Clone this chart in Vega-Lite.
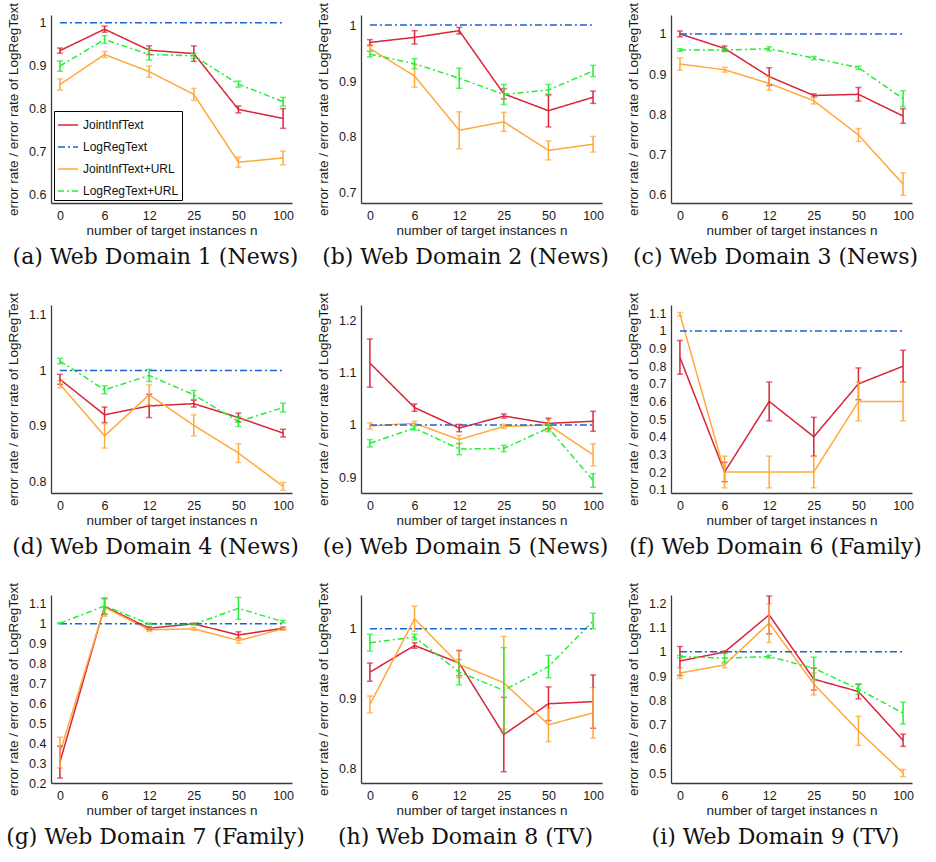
{
"$schema":"https://vega.github.io/schema/vega-lite/v6.json",
"background":"white",
"padding":{"left":6,"top":2,"right":5,"bottom":5},
"datasets":{"d":[
{"p":"a","s":"JI","n":0,"v":0.935,"lo":0.929,"hi":0.941},{"p":"a","s":"JI","n":6,"v":0.985,"lo":0.978,"hi":0.992},{"p":"a","s":"JI","n":12,"v":0.936,"lo":0.926,"hi":0.946},{"p":"a","s":"JI","n":25,"v":0.928,"lo":0.910,"hi":0.946},{"p":"a","s":"JI","n":50,"v":0.798,"lo":0.790,"hi":0.806},{"p":"a","s":"JI","n":100,"v":0.777,"lo":0.754,"hi":0.800},
{"p":"a","s":"JU","n":0,"v":0.856,"lo":0.843,"hi":0.869},{"p":"a","s":"JU","n":6,"v":0.926,"lo":0.919,"hi":0.933},{"p":"a","s":"JU","n":12,"v":0.886,"lo":0.873,"hi":0.899},{"p":"a","s":"JU","n":25,"v":0.833,"lo":0.819,"hi":0.847},{"p":"a","s":"JU","n":50,"v":0.675,"lo":0.663,"hi":0.687},{"p":"a","s":"JU","n":100,"v":0.685,"lo":0.669,"hi":0.701},
{"p":"a","s":"LU","n":0,"v":0.899,"lo":0.887,"hi":0.911},{"p":"a","s":"LU","n":6,"v":0.961,"lo":0.952,"hi":0.970},{"p":"a","s":"LU","n":12,"v":0.926,"lo":0.913,"hi":0.939},{"p":"a","s":"LU","n":25,"v":0.923,"lo":0.917,"hi":0.929},{"p":"a","s":"LU","n":50,"v":0.857,"lo":0.850,"hi":0.864},{"p":"a","s":"LU","n":100,"v":0.816,"lo":0.806,"hi":0.826},
{"p":"b","s":"JI","n":0,"v":0.969,"lo":0.964,"hi":0.974},{"p":"b","s":"JI","n":6,"v":0.978,"lo":0.966,"hi":0.990},{"p":"b","s":"JI","n":12,"v":0.990,"lo":0.984,"hi":0.996},{"p":"b","s":"JI","n":25,"v":0.877,"lo":0.868,"hi":0.886},{"p":"b","s":"JI","n":50,"v":0.847,"lo":0.818,"hi":0.876},{"p":"b","s":"JI","n":100,"v":0.871,"lo":0.860,"hi":0.882},
{"p":"b","s":"JU","n":0,"v":0.958,"lo":0.954,"hi":0.962},{"p":"b","s":"JU","n":6,"v":0.909,"lo":0.889,"hi":0.929},{"p":"b","s":"JU","n":12,"v":0.812,"lo":0.779,"hi":0.845},{"p":"b","s":"JU","n":25,"v":0.827,"lo":0.810,"hi":0.844},{"p":"b","s":"JU","n":50,"v":0.776,"lo":0.759,"hi":0.793},{"p":"b","s":"JU","n":100,"v":0.787,"lo":0.773,"hi":0.801},
{"p":"b","s":"LU","n":0,"v":0.948,"lo":0.943,"hi":0.953},{"p":"b","s":"LU","n":6,"v":0.931,"lo":0.922,"hi":0.940},{"p":"b","s":"LU","n":12,"v":0.905,"lo":0.887,"hi":0.923},{"p":"b","s":"LU","n":25,"v":0.876,"lo":0.858,"hi":0.894},{"p":"b","s":"LU","n":50,"v":0.884,"lo":0.874,"hi":0.894},{"p":"b","s":"LU","n":100,"v":0.918,"lo":0.908,"hi":0.928},
{"p":"c","s":"JI","n":0,"v":1.000,"lo":0.993,"hi":1.007},{"p":"c","s":"JI","n":6,"v":0.964,"lo":0.958,"hi":0.970},{"p":"c","s":"JI","n":12,"v":0.894,"lo":0.872,"hi":0.916},{"p":"c","s":"JI","n":25,"v":0.847,"lo":0.843,"hi":0.851},{"p":"c","s":"JI","n":50,"v":0.850,"lo":0.833,"hi":0.867},{"p":"c","s":"JI","n":100,"v":0.796,"lo":0.778,"hi":0.814},
{"p":"c","s":"JU","n":0,"v":0.925,"lo":0.910,"hi":0.940},{"p":"c","s":"JU","n":6,"v":0.911,"lo":0.905,"hi":0.917},{"p":"c","s":"JU","n":12,"v":0.877,"lo":0.860,"hi":0.894},{"p":"c","s":"JU","n":25,"v":0.834,"lo":0.826,"hi":0.842},{"p":"c","s":"JU","n":50,"v":0.749,"lo":0.733,"hi":0.765},{"p":"c","s":"JU","n":100,"v":0.627,"lo":0.599,"hi":0.655},
{"p":"c","s":"LU","n":0,"v":0.960,"lo":0.957,"hi":0.963},{"p":"c","s":"LU","n":6,"v":0.960,"lo":0.956,"hi":0.964},{"p":"c","s":"LU","n":12,"v":0.963,"lo":0.958,"hi":0.968},{"p":"c","s":"LU","n":25,"v":0.940,"lo":0.936,"hi":0.944},{"p":"c","s":"LU","n":50,"v":0.916,"lo":0.912,"hi":0.920},{"p":"c","s":"LU","n":100,"v":0.839,"lo":0.819,"hi":0.859},
{"p":"d","s":"JI","n":0,"v":0.984,"lo":0.975,"hi":0.993},{"p":"d","s":"JI","n":6,"v":0.920,"lo":0.906,"hi":0.934},{"p":"d","s":"JI","n":12,"v":0.936,"lo":0.915,"hi":0.957},{"p":"d","s":"JI","n":25,"v":0.940,"lo":0.934,"hi":0.946},{"p":"d","s":"JI","n":50,"v":0.915,"lo":0.907,"hi":0.923},{"p":"d","s":"JI","n":100,"v":0.887,"lo":0.880,"hi":0.894},
{"p":"d","s":"JU","n":0,"v":0.975,"lo":0.969,"hi":0.981},{"p":"d","s":"JU","n":6,"v":0.882,"lo":0.860,"hi":0.904},{"p":"d","s":"JU","n":12,"v":0.956,"lo":0.938,"hi":0.974},{"p":"d","s":"JU","n":25,"v":0.901,"lo":0.882,"hi":0.920},{"p":"d","s":"JU","n":50,"v":0.851,"lo":0.834,"hi":0.868},{"p":"d","s":"JU","n":100,"v":0.791,"lo":0.784,"hi":0.798},
{"p":"d","s":"LU","n":0,"v":1.017,"lo":1.012,"hi":1.022},{"p":"d","s":"LU","n":6,"v":0.965,"lo":0.958,"hi":0.972},{"p":"d","s":"LU","n":12,"v":0.991,"lo":0.980,"hi":1.002},{"p":"d","s":"LU","n":25,"v":0.956,"lo":0.948,"hi":0.964},{"p":"d","s":"LU","n":50,"v":0.908,"lo":0.899,"hi":0.917},{"p":"d","s":"LU","n":100,"v":0.933,"lo":0.925,"hi":0.941},
{"p":"e","s":"JI","n":0,"v":1.118,"lo":1.072,"hi":1.164},{"p":"e","s":"JI","n":6,"v":1.033,"lo":1.026,"hi":1.040},{"p":"e","s":"JI","n":12,"v":0.994,"lo":0.987,"hi":1.001},{"p":"e","s":"JI","n":25,"v":1.017,"lo":1.013,"hi":1.021},{"p":"e","s":"JI","n":50,"v":1.003,"lo":0.993,"hi":1.013},{"p":"e","s":"JI","n":100,"v":1.007,"lo":0.988,"hi":1.026},
{"p":"e","s":"JU","n":0,"v":0.998,"lo":0.992,"hi":1.004},{"p":"e","s":"JU","n":6,"v":1.003,"lo":0.999,"hi":1.007},{"p":"e","s":"JU","n":12,"v":0.972,"lo":0.964,"hi":0.980},{"p":"e","s":"JU","n":25,"v":0.997,"lo":0.993,"hi":1.001},{"p":"e","s":"JU","n":50,"v":1.000,"lo":0.990,"hi":1.010},{"p":"e","s":"JU","n":100,"v":0.943,"lo":0.922,"hi":0.964},
{"p":"e","s":"LU","n":0,"v":0.965,"lo":0.958,"hi":0.972},{"p":"e","s":"LU","n":6,"v":0.994,"lo":0.990,"hi":0.998},{"p":"e","s":"LU","n":12,"v":0.954,"lo":0.943,"hi":0.965},{"p":"e","s":"LU","n":25,"v":0.955,"lo":0.949,"hi":0.961},{"p":"e","s":"LU","n":50,"v":0.994,"lo":0.987,"hi":1.001},{"p":"e","s":"LU","n":100,"v":0.894,"lo":0.881,"hi":0.907},
{"p":"f","s":"JI","n":0,"v":0.850,"lo":0.755,"hi":0.945},{"p":"f","s":"JI","n":6,"v":0.200,"lo":0.145,"hi":0.255},{"p":"f","s":"JI","n":12,"v":0.600,"lo":0.490,"hi":0.710},{"p":"f","s":"JI","n":25,"v":0.400,"lo":0.290,"hi":0.510},{"p":"f","s":"JI","n":50,"v":0.700,"lo":0.610,"hi":0.790},{"p":"f","s":"JI","n":100,"v":0.800,"lo":0.710,"hi":0.890},
{"p":"f","s":"JU","n":0,"v":1.095,"lo":1.085,"hi":1.105},{"p":"f","s":"JU","n":6,"v":0.200,"lo":0.110,"hi":0.290},{"p":"f","s":"JU","n":12,"v":0.200,"lo":0.110,"hi":0.290},{"p":"f","s":"JU","n":25,"v":0.200,"lo":0.110,"hi":0.290},{"p":"f","s":"JU","n":50,"v":0.600,"lo":0.490,"hi":0.710},{"p":"f","s":"JU","n":100,"v":0.600,"lo":0.490,"hi":0.710},
{"p":"g","s":"JI","n":0,"v":0.305,"lo":0.225,"hi":0.385},{"p":"g","s":"JI","n":6,"v":1.087,"lo":1.047,"hi":1.127},{"p":"g","s":"JI","n":12,"v":0.978,"lo":0.971,"hi":0.985},{"p":"g","s":"JI","n":25,"v":1.000,"lo":0.997,"hi":1.003},{"p":"g","s":"JI","n":50,"v":0.944,"lo":0.928,"hi":0.960},{"p":"g","s":"JI","n":100,"v":0.978,"lo":0.972,"hi":0.984},
{"p":"g","s":"JU","n":0,"v":0.353,"lo":0.276,"hi":0.430},{"p":"g","s":"JU","n":6,"v":1.083,"lo":1.038,"hi":1.128},{"p":"g","s":"JU","n":12,"v":0.970,"lo":0.962,"hi":0.978},{"p":"g","s":"JU","n":25,"v":0.975,"lo":0.968,"hi":0.982},{"p":"g","s":"JU","n":50,"v":0.916,"lo":0.903,"hi":0.929},{"p":"g","s":"JU","n":100,"v":0.975,"lo":0.968,"hi":0.982},
{"p":"g","s":"LU","n":0,"v":1.003,"lo":1.000,"hi":1.006},{"p":"g","s":"LU","n":6,"v":1.090,"lo":1.050,"hi":1.130},{"p":"g","s":"LU","n":12,"v":1.000,"lo":0.997,"hi":1.003},{"p":"g","s":"LU","n":25,"v":0.998,"lo":0.995,"hi":1.001},{"p":"g","s":"LU","n":50,"v":1.078,"lo":1.023,"hi":1.133},{"p":"g","s":"LU","n":100,"v":1.011,"lo":1.005,"hi":1.017},
{"p":"h","s":"JI","n":0,"v":0.938,"lo":0.925,"hi":0.951},{"p":"h","s":"JI","n":6,"v":0.976,"lo":0.972,"hi":0.980},{"p":"h","s":"JI","n":12,"v":0.951,"lo":0.933,"hi":0.969},{"p":"h","s":"JI","n":25,"v":0.849,"lo":0.796,"hi":0.902},{"p":"h","s":"JI","n":50,"v":0.893,"lo":0.869,"hi":0.917},{"p":"h","s":"JI","n":100,"v":0.896,"lo":0.858,"hi":0.934},
{"p":"h","s":"JU","n":0,"v":0.892,"lo":0.880,"hi":0.904},{"p":"h","s":"JU","n":6,"v":1.014,"lo":0.996,"hi":1.032},{"p":"h","s":"JU","n":12,"v":0.949,"lo":0.930,"hi":0.968},{"p":"h","s":"JU","n":25,"v":0.923,"lo":0.857,"hi":0.989},{"p":"h","s":"JU","n":50,"v":0.863,"lo":0.839,"hi":0.887},{"p":"h","s":"JU","n":100,"v":0.880,"lo":0.844,"hi":0.916},
{"p":"h","s":"LU","n":0,"v":0.980,"lo":0.968,"hi":0.992},{"p":"h","s":"LU","n":6,"v":0.988,"lo":0.984,"hi":0.992},{"p":"h","s":"LU","n":12,"v":0.938,"lo":0.920,"hi":0.956},{"p":"h","s":"LU","n":25,"v":0.912,"lo":0.851,"hi":0.973},{"p":"h","s":"LU","n":50,"v":0.946,"lo":0.930,"hi":0.962},{"p":"h","s":"LU","n":100,"v":1.011,"lo":1.000,"hi":1.022},
{"p":"i","s":"JI","n":0,"v":0.962,"lo":0.902,"hi":1.022},{"p":"i","s":"JI","n":6,"v":0.999,"lo":0.995,"hi":1.003},{"p":"i","s":"JI","n":12,"v":1.152,"lo":1.074,"hi":1.230},{"p":"i","s":"JI","n":25,"v":0.887,"lo":0.842,"hi":0.932},{"p":"i","s":"JI","n":50,"v":0.836,"lo":0.806,"hi":0.866},{"p":"i","s":"JI","n":100,"v":0.635,"lo":0.610,"hi":0.660},
{"p":"i","s":"JU","n":0,"v":0.912,"lo":0.890,"hi":0.934},{"p":"i","s":"JU","n":6,"v":0.946,"lo":0.934,"hi":0.958},{"p":"i","s":"JU","n":12,"v":1.118,"lo":1.038,"hi":1.198},{"p":"i","s":"JU","n":25,"v":0.867,"lo":0.822,"hi":0.912},{"p":"i","s":"JU","n":50,"v":0.674,"lo":0.614,"hi":0.734},{"p":"i","s":"JU","n":100,"v":0.500,"lo":0.485,"hi":0.515},
{"p":"i","s":"LU","n":0,"v":0.980,"lo":0.975,"hi":0.985},{"p":"i","s":"LU","n":6,"v":0.974,"lo":0.954,"hi":0.994},{"p":"i","s":"LU","n":12,"v":0.980,"lo":0.974,"hi":0.986},{"p":"i","s":"LU","n":25,"v":0.932,"lo":0.886,"hi":0.978},{"p":"i","s":"LU","n":50,"v":0.846,"lo":0.826,"hi":0.866},{"p":"i","s":"LU","n":100,"v":0.747,"lo":0.702,"hi":0.792},
{"p":"a","s":"LR","n":0,"v":1,"lo":1,"hi":1},{"p":"a","s":"LR","n":6,"v":1,"lo":1,"hi":1},{"p":"a","s":"LR","n":12,"v":1,"lo":1,"hi":1},{"p":"a","s":"LR","n":25,"v":1,"lo":1,"hi":1},{"p":"a","s":"LR","n":50,"v":1,"lo":1,"hi":1},{"p":"a","s":"LR","n":100,"v":1,"lo":1,"hi":1},
{"p":"b","s":"LR","n":0,"v":1,"lo":1,"hi":1},{"p":"b","s":"LR","n":6,"v":1,"lo":1,"hi":1},{"p":"b","s":"LR","n":12,"v":1,"lo":1,"hi":1},{"p":"b","s":"LR","n":25,"v":1,"lo":1,"hi":1},{"p":"b","s":"LR","n":50,"v":1,"lo":1,"hi":1},{"p":"b","s":"LR","n":100,"v":1,"lo":1,"hi":1},
{"p":"c","s":"LR","n":0,"v":1,"lo":1,"hi":1},{"p":"c","s":"LR","n":6,"v":1,"lo":1,"hi":1},{"p":"c","s":"LR","n":12,"v":1,"lo":1,"hi":1},{"p":"c","s":"LR","n":25,"v":1,"lo":1,"hi":1},{"p":"c","s":"LR","n":50,"v":1,"lo":1,"hi":1},{"p":"c","s":"LR","n":100,"v":1,"lo":1,"hi":1},
{"p":"d","s":"LR","n":0,"v":1,"lo":1,"hi":1},{"p":"d","s":"LR","n":6,"v":1,"lo":1,"hi":1},{"p":"d","s":"LR","n":12,"v":1,"lo":1,"hi":1},{"p":"d","s":"LR","n":25,"v":1,"lo":1,"hi":1},{"p":"d","s":"LR","n":50,"v":1,"lo":1,"hi":1},{"p":"d","s":"LR","n":100,"v":1,"lo":1,"hi":1},
{"p":"e","s":"LR","n":0,"v":1,"lo":1,"hi":1},{"p":"e","s":"LR","n":6,"v":1,"lo":1,"hi":1},{"p":"e","s":"LR","n":12,"v":1,"lo":1,"hi":1},{"p":"e","s":"LR","n":25,"v":1,"lo":1,"hi":1},{"p":"e","s":"LR","n":50,"v":1,"lo":1,"hi":1},{"p":"e","s":"LR","n":100,"v":1,"lo":1,"hi":1},
{"p":"f","s":"LR","n":0,"v":1,"lo":1,"hi":1},{"p":"f","s":"LR","n":6,"v":1,"lo":1,"hi":1},{"p":"f","s":"LR","n":12,"v":1,"lo":1,"hi":1},{"p":"f","s":"LR","n":25,"v":1,"lo":1,"hi":1},{"p":"f","s":"LR","n":50,"v":1,"lo":1,"hi":1},{"p":"f","s":"LR","n":100,"v":1,"lo":1,"hi":1},
{"p":"g","s":"LR","n":0,"v":1,"lo":1,"hi":1},{"p":"g","s":"LR","n":6,"v":1,"lo":1,"hi":1},{"p":"g","s":"LR","n":12,"v":1,"lo":1,"hi":1},{"p":"g","s":"LR","n":25,"v":1,"lo":1,"hi":1},{"p":"g","s":"LR","n":50,"v":1,"lo":1,"hi":1},{"p":"g","s":"LR","n":100,"v":1,"lo":1,"hi":1},
{"p":"h","s":"LR","n":0,"v":1,"lo":1,"hi":1},{"p":"h","s":"LR","n":6,"v":1,"lo":1,"hi":1},{"p":"h","s":"LR","n":12,"v":1,"lo":1,"hi":1},{"p":"h","s":"LR","n":25,"v":1,"lo":1,"hi":1},{"p":"h","s":"LR","n":50,"v":1,"lo":1,"hi":1},{"p":"h","s":"LR","n":100,"v":1,"lo":1,"hi":1},
{"p":"i","s":"LR","n":0,"v":1,"lo":1,"hi":1},{"p":"i","s":"LR","n":6,"v":1,"lo":1,"hi":1},{"p":"i","s":"LR","n":12,"v":1,"lo":1,"hi":1},{"p":"i","s":"LR","n":25,"v":1,"lo":1,"hi":1},{"p":"i","s":"LR","n":50,"v":1,"lo":1,"hi":1},{"p":"i","s":"LR","n":100,"v":1,"lo":1,"hi":1}
]},
"data":{"name":"d"},
"config":{
 "font":"Liberation Sans",
 "view":{"stroke":null},
 "axis":{"domainColor":"#3a3a3a","domainWidth":1.3,"ticks":false,"grid":false,"labelFont":"Liberation Sans","labelFontSize":12.5,"labelColor":"#1a1a1a","labelOverlap":false,"labelBound":false,"labelFlush":false,"titleFont":"Liberation Sans","titleFontSize":13.5,"titleFontWeight":"normal","titleColor":"#1a1a1a"},
 "axisX":{"labelPadding":6,"titlePadding":2},
 "axisY":{"labelPadding":5,"titlePadding":8},
 "title":{"font":"DejaVu Serif","fontSize":22,"fontWeight":"normal","color":"#111","orient":"bottom","anchor":"middle","offset":10,"dx":-16}
},
"columns":3,
"bounds":"flush",
"spacing":{"row":102,"column":69},
"resolve":{"scale":{"color":"independent","strokeDash":"independent"},"legend":{"color":"independent","strokeDash":"independent"}},
"concat":[
 {"width":241,"height":188,"transform":[{"filter":"datum.p==='a'"}],"title":{"text":"(a) Web Domain 1 (News)"},
  "encoding":{"x":{"field":"n","type":"ordinal","sort":[0,6,12,25,50,100],"scale":{"type":"point","padding":0.2},"axis":{"title":"number of target instances n","labelAngle":0}}},
  "layer":[
   {"mark":{"type":"line","strokeWidth":1.5,"clip":true},"encoding":{
     "y":{"field":"v","type":"quantitative","scale":{"domain":[0.58,1.018],"nice":false,"zero":false},"axis":{"values":[0.6,0.7,0.8,0.9,1],"format":"~g","labelOverlap":false},"title":"error rate / error rate of LogRegText"},
     "color":{"field":"s","type":"nominal","scale":{"domain":["JI","LR","JU","LU"],"range":["#d9243a","#1764d0","#ffa93c","#22ee33"]},"legend":{"orient":"bottom-left","offset":3,"title":null,"strokeColor":"#000","fillColor":"#fff","padding":3,"symbolType":"stroke","symbolSize":400,"symbolStrokeWidth":1.5,"labelFontSize":12,"labelFont":"Liberation Sans","labelColor":"#111","rowPadding":5,"labelExpr":"{'JI':'JointInfText','LR':'LogRegText','JU':'JointInfText+URL','LU':'LogRegText+URL'}[datum.label]"}},
     "strokeDash":{"field":"s","type":"nominal","scale":{"domain":["JI","LR","JU","LU"],"range":[[1,0],[7,3,2,3],[1,0],[6,3,2,3]]},"legend":{"orient":"bottom-left","offset":3,"title":null,"strokeColor":"#000","fillColor":"#fff","padding":3,"symbolType":"stroke","symbolSize":400,"symbolStrokeWidth":1.5,"labelFontSize":12,"labelFont":"Liberation Sans","labelColor":"#111","rowPadding":5,"labelExpr":"{'JI':'JointInfText','LR':'LogRegText','JU':'JointInfText+URL','LU':'LogRegText+URL'}[datum.label]"}}}},
   {"transform":[{"filter":"datum.s!=='LR'"}],"mark":{"type":"errorbar","ticks":{"size":6},"thickness":1.5,"clip":true},"encoding":{
     "y":{"field":"lo","type":"quantitative","scale":{"domain":[0.58,1.018],"nice":false,"zero":false},"axis":{"values":[0.6,0.7,0.8,0.9,1],"format":"~g","labelOverlap":false},"title":"error rate / error rate of LogRegText"},"y2":{"field":"hi"},
     "color":{"field":"s","type":"nominal","scale":{"domain":["JI","LR","JU","LU"],"range":["#d9243a","#1764d0","#ffa93c","#22ee33"]},"legend":null}}}
  ]},
 {"width":241,"height":188,"transform":[{"filter":"datum.p==='b'"}],"title":{"text":"(b) Web Domain 2 (News)"},
  "encoding":{"x":{"field":"n","type":"ordinal","sort":[0,6,12,25,50,100],"scale":{"type":"point","padding":0.2},"axis":{"title":"number of target instances n","labelAngle":0}}},
  "layer":[
   {"mark":{"type":"line","strokeWidth":1.5,"clip":true},"encoding":{
     "y":{"field":"v","type":"quantitative","scale":{"domain":[0.682,1.018],"nice":false,"zero":false},"axis":{"values":[0.7,0.8,0.9,1],"format":"~g","labelOverlap":false},"title":"error rate / error rate of LogRegText"},
     "color":{"field":"s","type":"nominal","scale":{"domain":["JI","LR","JU","LU"],"range":["#d9243a","#1764d0","#ffa93c","#22ee33"]},"legend":null},
     "strokeDash":{"field":"s","type":"nominal","scale":{"domain":["JI","LR","JU","LU"],"range":[[1,0],[7,3,2,3],[1,0],[6,3,2,3]]},"legend":null}}},
   {"transform":[{"filter":"datum.s!=='LR'"}],"mark":{"type":"errorbar","ticks":{"size":6},"thickness":1.5,"clip":true},"encoding":{
     "y":{"field":"lo","type":"quantitative","scale":{"domain":[0.682,1.018],"nice":false,"zero":false},"axis":{"values":[0.7,0.8,0.9,1],"format":"~g","labelOverlap":false},"title":"error rate / error rate of LogRegText"},"y2":{"field":"hi"},
     "color":{"field":"s","type":"nominal","scale":{"domain":["JI","LR","JU","LU"],"range":["#d9243a","#1764d0","#ffa93c","#22ee33"]},"legend":null}}}
  ]},
 {"width":241,"height":188,"transform":[{"filter":"datum.p==='c'"}],"title":{"text":"(c) Web Domain 3 (News)"},
  "encoding":{"x":{"field":"n","type":"ordinal","sort":[0,6,12,25,50,100],"scale":{"type":"point","padding":0.2},"axis":{"title":"number of target instances n","labelAngle":0}}},
  "layer":[
   {"mark":{"type":"line","strokeWidth":1.5,"clip":true},"encoding":{
     "y":{"field":"v","type":"quantitative","scale":{"domain":[0.58,1.047],"nice":false,"zero":false},"axis":{"values":[0.6,0.7,0.8,0.9,1],"format":"~g","labelOverlap":false},"title":"error rate / error rate of LogRegText"},
     "color":{"field":"s","type":"nominal","scale":{"domain":["JI","LR","JU","LU"],"range":["#d9243a","#1764d0","#ffa93c","#22ee33"]},"legend":null},
     "strokeDash":{"field":"s","type":"nominal","scale":{"domain":["JI","LR","JU","LU"],"range":[[1,0],[7,3,2,3],[1,0],[6,3,2,3]]},"legend":null}}},
   {"transform":[{"filter":"datum.s!=='LR'"}],"mark":{"type":"errorbar","ticks":{"size":6},"thickness":1.5,"clip":true},"encoding":{
     "y":{"field":"lo","type":"quantitative","scale":{"domain":[0.58,1.047],"nice":false,"zero":false},"axis":{"values":[0.6,0.7,0.8,0.9,1],"format":"~g","labelOverlap":false},"title":"error rate / error rate of LogRegText"},"y2":{"field":"hi"},
     "color":{"field":"s","type":"nominal","scale":{"domain":["JI","LR","JU","LU"],"range":["#d9243a","#1764d0","#ffa93c","#22ee33"]},"legend":null}}}
  ]},
 {"width":241,"height":188,"transform":[{"filter":"datum.p==='d'"}],"title":{"text":"(d) Web Domain 4 (News)"},
  "encoding":{"x":{"field":"n","type":"ordinal","sort":[0,6,12,25,50,100],"scale":{"type":"point","padding":0.2},"axis":{"title":"number of target instances n","labelAngle":0}}},
  "layer":[
   {"mark":{"type":"line","strokeWidth":1.5,"clip":true},"encoding":{
     "y":{"field":"v","type":"quantitative","scale":{"domain":[0.779,1.118],"nice":false,"zero":false},"axis":{"values":[0.8,0.9,1,1.1],"format":"~g","labelOverlap":false},"title":"error rate / error rate of LogRegText"},
     "color":{"field":"s","type":"nominal","scale":{"domain":["JI","LR","JU","LU"],"range":["#d9243a","#1764d0","#ffa93c","#22ee33"]},"legend":null},
     "strokeDash":{"field":"s","type":"nominal","scale":{"domain":["JI","LR","JU","LU"],"range":[[1,0],[7,3,2,3],[1,0],[6,3,2,3]]},"legend":null}}},
   {"transform":[{"filter":"datum.s!=='LR'"}],"mark":{"type":"errorbar","ticks":{"size":6},"thickness":1.5,"clip":true},"encoding":{
     "y":{"field":"lo","type":"quantitative","scale":{"domain":[0.779,1.118],"nice":false,"zero":false},"axis":{"values":[0.8,0.9,1,1.1],"format":"~g","labelOverlap":false},"title":"error rate / error rate of LogRegText"},"y2":{"field":"hi"},
     "color":{"field":"s","type":"nominal","scale":{"domain":["JI","LR","JU","LU"],"range":["#d9243a","#1764d0","#ffa93c","#22ee33"]},"legend":null}}}
  ]},
 {"width":241,"height":188,"transform":[{"filter":"datum.p==='e'"}],"title":{"text":"(e) Web Domain 5 (News)"},
  "encoding":{"x":{"field":"n","type":"ordinal","sort":[0,6,12,25,50,100],"scale":{"type":"point","padding":0.2},"axis":{"title":"number of target instances n","labelAngle":0}}},
  "layer":[
   {"mark":{"type":"line","strokeWidth":1.5,"clip":true},"encoding":{
     "y":{"field":"v","type":"quantitative","scale":{"domain":[0.87,1.229],"nice":false,"zero":false},"axis":{"values":[0.9,1,1.1,1.2],"format":"~g","labelOverlap":false},"title":"error rate / error rate of LogRegText"},
     "color":{"field":"s","type":"nominal","scale":{"domain":["JI","LR","JU","LU"],"range":["#d9243a","#1764d0","#ffa93c","#22ee33"]},"legend":null},
     "strokeDash":{"field":"s","type":"nominal","scale":{"domain":["JI","LR","JU","LU"],"range":[[1,0],[7,3,2,3],[1,0],[6,3,2,3]]},"legend":null}}},
   {"transform":[{"filter":"datum.s!=='LR'"}],"mark":{"type":"errorbar","ticks":{"size":6},"thickness":1.5,"clip":true},"encoding":{
     "y":{"field":"lo","type":"quantitative","scale":{"domain":[0.87,1.229],"nice":false,"zero":false},"axis":{"values":[0.9,1,1.1,1.2],"format":"~g","labelOverlap":false},"title":"error rate / error rate of LogRegText"},"y2":{"field":"hi"},
     "color":{"field":"s","type":"nominal","scale":{"domain":["JI","LR","JU","LU"],"range":["#d9243a","#1764d0","#ffa93c","#22ee33"]},"legend":null}}}
  ]},
 {"width":241,"height":188,"transform":[{"filter":"datum.p==='f'"}],"title":{"text":"(f) Web Domain 6 (Family)"},
  "encoding":{"x":{"field":"n","type":"ordinal","sort":[0,6,12,25,50,100],"scale":{"type":"point","padding":0.2},"axis":{"title":"number of target instances n","labelAngle":0}}},
  "layer":[
   {"mark":{"type":"line","strokeWidth":1.5,"clip":true},"encoding":{
     "y":{"field":"v","type":"quantitative","scale":{"domain":[0.081,1.147],"nice":false,"zero":false},"axis":{"values":[0.1,0.2,0.3,0.4,0.5,0.6,0.7,0.8,0.9,1,1.1],"format":"~g","labelOverlap":false},"title":"error rate / error rate of LogRegText"},
     "color":{"field":"s","type":"nominal","scale":{"domain":["JI","LR","JU","LU"],"range":["#d9243a","#1764d0","#ffa93c","#22ee33"]},"legend":null},
     "strokeDash":{"field":"s","type":"nominal","scale":{"domain":["JI","LR","JU","LU"],"range":[[1,0],[7,3,2,3],[1,0],[6,3,2,3]]},"legend":null}}},
   {"transform":[{"filter":"datum.s!=='LR'"}],"mark":{"type":"errorbar","ticks":{"size":6},"thickness":1.5,"clip":true},"encoding":{
     "y":{"field":"lo","type":"quantitative","scale":{"domain":[0.081,1.147],"nice":false,"zero":false},"axis":{"values":[0.1,0.2,0.3,0.4,0.5,0.6,0.7,0.8,0.9,1,1.1],"format":"~g","labelOverlap":false},"title":"error rate / error rate of LogRegText"},"y2":{"field":"hi"},
     "color":{"field":"s","type":"nominal","scale":{"domain":["JI","LR","JU","LU"],"range":["#d9243a","#1764d0","#ffa93c","#22ee33"]},"legend":null}}}
  ]},
 {"width":241,"height":188,"transform":[{"filter":"datum.p==='g'"}],"title":{"text":"(g) Web Domain 7 (Family)"},
  "encoding":{"x":{"field":"n","type":"ordinal","sort":[0,6,12,25,50,100],"scale":{"type":"point","padding":0.2},"axis":{"title":"number of target instances n","labelAngle":0}}},
  "layer":[
   {"mark":{"type":"line","strokeWidth":1.5,"clip":true},"encoding":{
     "y":{"field":"v","type":"quantitative","scale":{"domain":[0.2,1.145],"nice":false,"zero":false},"axis":{"values":[0.2,0.3,0.4,0.5,0.6,0.7,0.8,0.9,1,1.1],"format":"~g","labelOverlap":false},"title":"error rate / error rate of LogRegText"},
     "color":{"field":"s","type":"nominal","scale":{"domain":["JI","LR","JU","LU"],"range":["#d9243a","#1764d0","#ffa93c","#22ee33"]},"legend":null},
     "strokeDash":{"field":"s","type":"nominal","scale":{"domain":["JI","LR","JU","LU"],"range":[[1,0],[7,3,2,3],[1,0],[6,3,2,3]]},"legend":null}}},
   {"transform":[{"filter":"datum.s!=='LR'"}],"mark":{"type":"errorbar","ticks":{"size":6},"thickness":1.5,"clip":true},"encoding":{
     "y":{"field":"lo","type":"quantitative","scale":{"domain":[0.2,1.145],"nice":false,"zero":false},"axis":{"values":[0.2,0.3,0.4,0.5,0.6,0.7,0.8,0.9,1,1.1],"format":"~g","labelOverlap":false},"title":"error rate / error rate of LogRegText"},"y2":{"field":"hi"},
     "color":{"field":"s","type":"nominal","scale":{"domain":["JI","LR","JU","LU"],"range":["#d9243a","#1764d0","#ffa93c","#22ee33"]},"legend":null}}}
  ]},
 {"width":241,"height":188,"transform":[{"filter":"datum.p==='h'"}],"title":{"text":"(h) Web Domain 8 (TV)"},
  "encoding":{"x":{"field":"n","type":"ordinal","sort":[0,6,12,25,50,100],"scale":{"type":"point","padding":0.2},"axis":{"title":"number of target instances n","labelAngle":0}}},
  "layer":[
   {"mark":{"type":"line","strokeWidth":1.5,"clip":true},"encoding":{
     "y":{"field":"v","type":"quantitative","scale":{"domain":[0.78,1.048],"nice":false,"zero":false},"axis":{"values":[0.8,0.9,1],"format":"~g","labelOverlap":false},"title":"error rate / error rate of LogRegText"},
     "color":{"field":"s","type":"nominal","scale":{"domain":["JI","LR","JU","LU"],"range":["#d9243a","#1764d0","#ffa93c","#22ee33"]},"legend":null},
     "strokeDash":{"field":"s","type":"nominal","scale":{"domain":["JI","LR","JU","LU"],"range":[[1,0],[7,3,2,3],[1,0],[6,3,2,3]]},"legend":null}}},
   {"transform":[{"filter":"datum.s!=='LR'"}],"mark":{"type":"errorbar","ticks":{"size":6},"thickness":1.5,"clip":true},"encoding":{
     "y":{"field":"lo","type":"quantitative","scale":{"domain":[0.78,1.048],"nice":false,"zero":false},"axis":{"values":[0.8,0.9,1],"format":"~g","labelOverlap":false},"title":"error rate / error rate of LogRegText"},"y2":{"field":"hi"},
     "color":{"field":"s","type":"nominal","scale":{"domain":["JI","LR","JU","LU"],"range":["#d9243a","#1764d0","#ffa93c","#22ee33"]},"legend":null}}}
  ]},
 {"width":241,"height":188,"transform":[{"filter":"datum.p==='i'"}],"title":{"text":"(i) Web Domain 9 (TV)"},
  "encoding":{"x":{"field":"n","type":"ordinal","sort":[0,6,12,25,50,100],"scale":{"type":"point","padding":0.2},"axis":{"title":"number of target instances n","labelAngle":0}}},
  "layer":[
   {"mark":{"type":"line","strokeWidth":1.5,"clip":true},"encoding":{
     "y":{"field":"v","type":"quantitative","scale":{"domain":[0.459,1.234],"nice":false,"zero":false},"axis":{"values":[0.5,0.6,0.7,0.8,0.9,1,1.1,1.2],"format":"~g","labelOverlap":false},"title":"error rate / error rate of LogRegText"},
     "color":{"field":"s","type":"nominal","scale":{"domain":["JI","LR","JU","LU"],"range":["#d9243a","#1764d0","#ffa93c","#22ee33"]},"legend":null},
     "strokeDash":{"field":"s","type":"nominal","scale":{"domain":["JI","LR","JU","LU"],"range":[[1,0],[7,3,2,3],[1,0],[6,3,2,3]]},"legend":null}}},
   {"transform":[{"filter":"datum.s!=='LR'"}],"mark":{"type":"errorbar","ticks":{"size":6},"thickness":1.5,"clip":true},"encoding":{
     "y":{"field":"lo","type":"quantitative","scale":{"domain":[0.459,1.234],"nice":false,"zero":false},"axis":{"values":[0.5,0.6,0.7,0.8,0.9,1,1.1,1.2],"format":"~g","labelOverlap":false},"title":"error rate / error rate of LogRegText"},"y2":{"field":"hi"},
     "color":{"field":"s","type":"nominal","scale":{"domain":["JI","LR","JU","LU"],"range":["#d9243a","#1764d0","#ffa93c","#22ee33"]},"legend":null}}}
  ]}
]
}
